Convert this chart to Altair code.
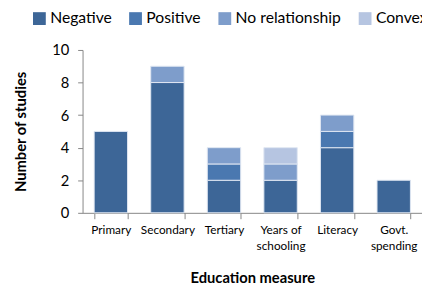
import altair as alt
import pandas as pd

categories = ["Primary", "Secondary", "Tertiary", "Years of|schooling", "Literacy", "Govt.|spending"]
series = ["Negative", "Positive", "No relationship", "Convex"]
negative = [5, 8, 2, 2, 4, 2]
positive = [0, 0, 1, 0, 1, 0]
no_relationship = [0, 1, 1, 1, 1, 0]
convex = [0, 0, 0, 1, 0, 0]
colors = ["#3d6697", "#4a78b0", "#7e9dcb", "#b6c5e1"]

rows = []
for i, c in enumerate(categories):
    for j, (s, vals) in enumerate(zip(series, [negative, positive, no_relationship, convex])):
        if vals[i] > 0:
            rows.append({"measure": c, "type": s, "count": vals[i], "ord": j})
df = pd.DataFrame(rows)

FONT = "Lato"

chart = alt.Chart(df).mark_bar(stroke="#dfe7f2", strokeWidth=1).encode(
    x=alt.X("measure:N", sort=categories,
            scale=alt.Scale(paddingInner=0.41, paddingOuter=0.205),
            axis=alt.Axis(title="Education measure", labelAngle=0,
                          labelExpr="split(datum.label, '|')",
                          tickBand="extent", labelFontSize=12, labelFont=FONT,
                          labelColor="#000", labelPadding=6, labelLineHeight=16,
                          titleFont=FONT, titleFontSize=15, titleFontWeight="bold",
                          titleColor="#000", titlePadding=20,
                          domainColor="#868686", tickColor="#868686", tickSize=6)),
    y=alt.Y("count:Q", stack="zero",
            scale=alt.Scale(domain=[0, 10]),
            axis=alt.Axis(title="Number of studies", values=[0, 2, 4, 6, 8, 10],
                          grid=False, labelFontSize=15, labelFont=FONT, labelColor="#000",
                          labelPadding=9, titleFont=FONT, titleFontSize=15,
                          titleFontWeight="bold", titleColor="#000", titlePadding=24,
                          domainColor="#868686", tickColor="#868686", tickSize=5)),
    color=alt.Color("type:N", sort=series,
                    scale=alt.Scale(domain=series, range=colors),
                    legend=alt.Legend(title=None, orient="none", direction="horizontal",
                                      legendX=-52, legendY=-40, symbolType="square",
                                      symbolSize=170, symbolStrokeWidth=0,
                                      labelFontSize=16, labelFont=FONT, labelColor="#000",
                                      labelOffset=3, columnPadding=16)),
    order=alt.Order("ord:Q"),
).properties(
    width=346, height=166,
    autosize=alt.AutoSizeParams(type="none"),
    padding={"left": 76, "top": 40, "right": 0, "bottom": 82},
).configure_view(stroke=None)

chart.save("out.html", embed_options={"renderer": "svg", "actions": False})
